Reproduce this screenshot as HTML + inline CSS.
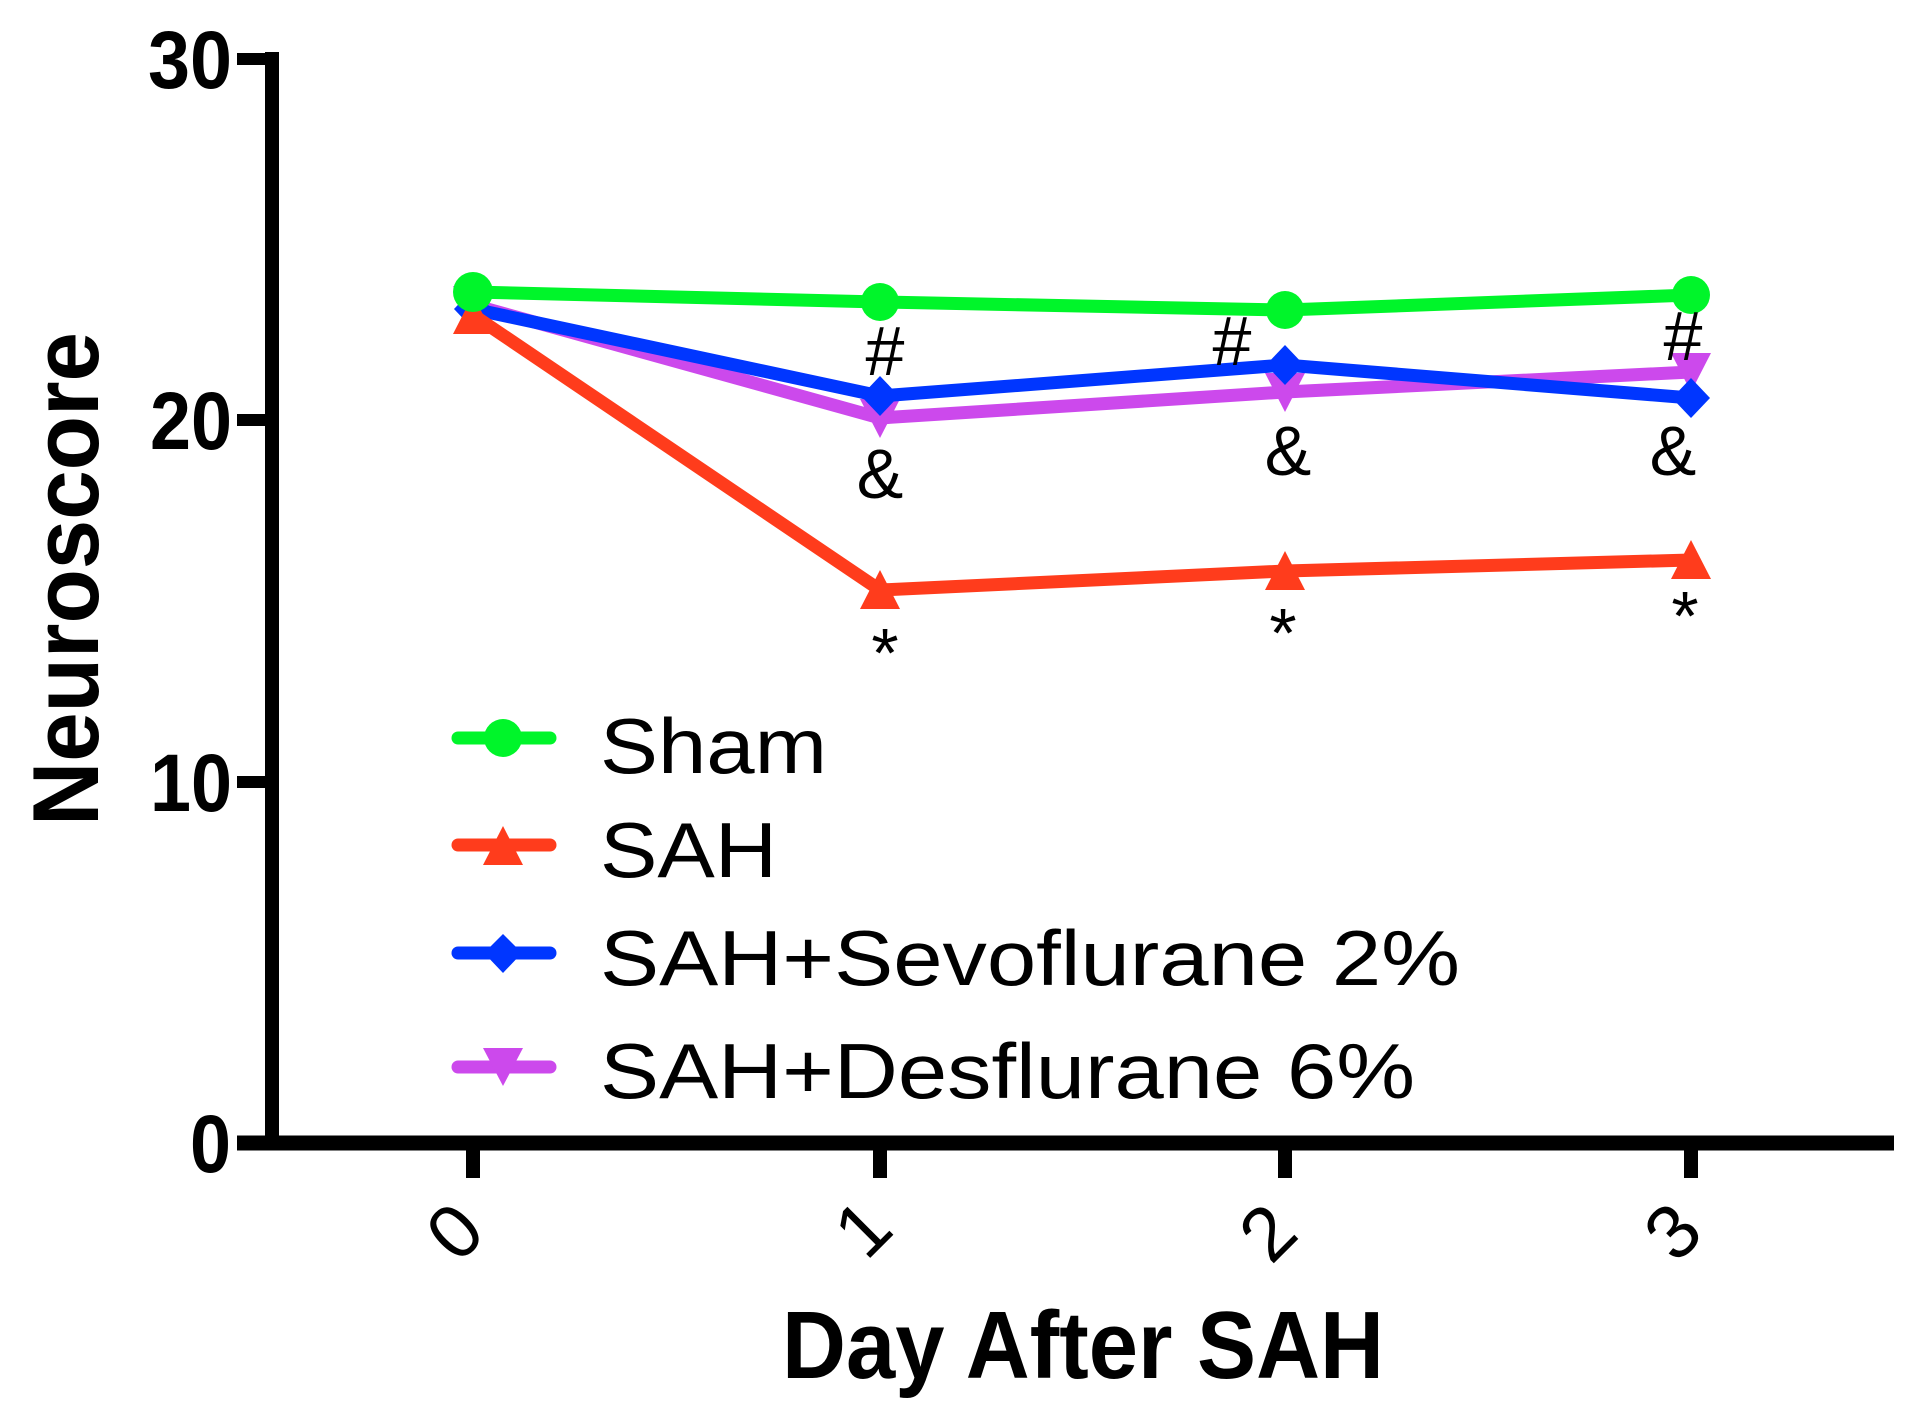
<!DOCTYPE html>
<html>
<head>
<meta charset="utf-8">
<style>
  html, body { margin: 0; padding: 0; background: #ffffff; }
  body { width: 1916px; height: 1420px; overflow: hidden; }
  svg { display: block; }
  text { font-family: "Liberation Sans", Arial, Helvetica, sans-serif; fill: #000; }
</style>
</head>
<body>
<svg width="1916" height="1420" viewBox="0 0 1916 1420" xmlns="http://www.w3.org/2000/svg">
  <rect x="0" y="0" width="1916" height="1420" fill="#ffffff"/>

  <!-- Axes -->
  <line x1="272" y1="52" x2="272" y2="1150" stroke="#000" stroke-width="14"/>
  <line x1="237" y1="1143" x2="1894" y2="1143" stroke="#000" stroke-width="15"/>

  <!-- Y ticks -->
  <g stroke="#000" stroke-width="12">
    <line x1="237" y1="59" x2="272" y2="59"/>
    <line x1="237" y1="420" x2="272" y2="420"/>
    <line x1="237" y1="782" x2="272" y2="782"/>
  </g>
  <!-- X ticks -->
  <g stroke="#000" stroke-width="14">
    <line x1="473" y1="1143" x2="473" y2="1178"/>
    <line x1="880" y1="1143" x2="880" y2="1178"/>
    <line x1="1285" y1="1143" x2="1285" y2="1178"/>
    <line x1="1691" y1="1143" x2="1691" y2="1178"/>
  </g>

  <!-- Y tick labels -->
  <g font-weight="bold" font-size="82" text-anchor="end">
    <text x="232" y="88" textLength="84" lengthAdjust="spacingAndGlyphs">30</text>
    <text x="232" y="449" textLength="82" lengthAdjust="spacingAndGlyphs">20</text>
    <text x="232" y="811" textLength="82" lengthAdjust="spacingAndGlyphs">10</text>
    <text x="231" y="1172" textLength="41" lengthAdjust="spacingAndGlyphs">0</text>
  </g>

  <!-- X tick labels (rotated) -->
  <g font-size="76" text-anchor="middle" dominant-baseline="central">
    <text transform="translate(455,1232) rotate(-45)">0</text>
    <text transform="translate(863,1229) rotate(-45)">1</text>
    <text transform="translate(1268,1233) rotate(-45)">2</text>
    <text transform="translate(1673,1232) rotate(-45)">3</text>
  </g>

  <!-- Axis titles -->
  <text x="782" y="1378" font-weight="bold" font-size="96" textLength="602" lengthAdjust="spacingAndGlyphs">Day After SAH</text>
  <text transform="translate(98,579) rotate(-90)" text-anchor="middle" font-weight="bold" font-size="94" textLength="494" lengthAdjust="spacingAndGlyphs">Neuroscore</text>

  <!-- Series: Desflurane (purple) -->
  <polyline points="473,305 880,418 1285,392 1691,372" fill="none" stroke="#cc49ec" stroke-width="13" stroke-linejoin="round" stroke-linecap="round"/>
  <g fill="#cc49ec">
    <polygon points="453,286 493,286 473,325"/>
    <polygon points="860,399 900,399 880,438"/>
    <polygon points="1265,373 1305,373 1285,412"/>
    <polygon points="1671,353 1711,353 1691,392"/>
  </g>

  <!-- Series: Sevoflurane (blue) -->
  <polyline points="473,309 880,396 1285,365 1691,398" fill="none" stroke="#0036ff" stroke-width="13" stroke-linejoin="round" stroke-linecap="round"/>
  <g fill="#0036ff">
    <polygon points="473,289 492,309 473,329 454,309"/>
    <polygon points="880,376 899,396 880,416 861,396"/>
    <polygon points="1285,345 1304,365 1285,385 1266,365"/>
    <polygon points="1691,378 1710,398 1691,418 1672,398"/>
  </g>

  <!-- Series: SAH (red) -->
  <polyline points="473,315 880,590 1285,571 1691,560" fill="none" stroke="#ff3c1c" stroke-width="13" stroke-linejoin="round" stroke-linecap="round"/>
  <g fill="#ff3c1c">
    <polygon points="473,295 493,334 453,334"/>
    <polygon points="880,570 900,609 860,609"/>
    <polygon points="1285,551 1305,590 1265,590"/>
    <polygon points="1691,540 1711,579 1671,579"/>
  </g>

  <!-- Series: Sham (green) -->
  <polyline points="473,292 880,302 1285,310 1691,295" fill="none" stroke="#00f52a" stroke-width="13" stroke-linejoin="round" stroke-linecap="round"/>
  <g fill="#00f52a">
    <circle cx="473" cy="292" r="20"/>
    <circle cx="880" cy="302" r="19"/>
    <circle cx="1285" cy="310" r="19"/>
    <circle cx="1691" cy="295" r="19"/>
  </g>

  <!-- Significance marks -->
  <g font-size="70" text-anchor="middle">
    <text x="885" y="375">#</text>
    <text x="1232" y="365">#</text>
    <text x="1683" y="360">#</text>
    <text x="880" y="498">&amp;</text>
    <text x="1288" y="475">&amp;</text>
    <text x="1673" y="475">&amp;</text>
    <text x="885" y="677">*</text>
    <text x="1283" y="657">*</text>
    <text x="1685" y="640">*</text>
  </g>

  <!-- Legend -->
  <g stroke-width="13" stroke-linecap="round">
    <line x1="458" y1="738" x2="550" y2="738" stroke="#00f52a"/>
    <line x1="458" y1="845" x2="550" y2="845" stroke="#ff3c1c"/>
    <line x1="458" y1="953" x2="550" y2="953" stroke="#0036ff"/>
    <line x1="458" y1="1067" x2="550" y2="1067" stroke="#cc49ec"/>
  </g>
  <circle cx="503" cy="738" r="19" fill="#00f52a"/>
  <polygon points="503,826 523,865 483,865" fill="#ff3c1c"/>
  <polygon points="503,934 522,953 503,973 484,953" fill="#0036ff"/>
  <polygon points="483,1048 523,1048 503,1086" fill="#cc49ec"/>

  <g font-size="78">
    <text x="600" y="773" textLength="227" lengthAdjust="spacingAndGlyphs">Sham</text>
    <text x="600" y="877" textLength="177" lengthAdjust="spacingAndGlyphs">SAH</text>
    <text x="600" y="985" textLength="860" lengthAdjust="spacingAndGlyphs">SAH+Sevoflurane 2%</text>
    <text x="600" y="1098" textLength="815" lengthAdjust="spacingAndGlyphs">SAH+Desflurane 6%</text>
  </g>
</svg>
</body>
</html>
